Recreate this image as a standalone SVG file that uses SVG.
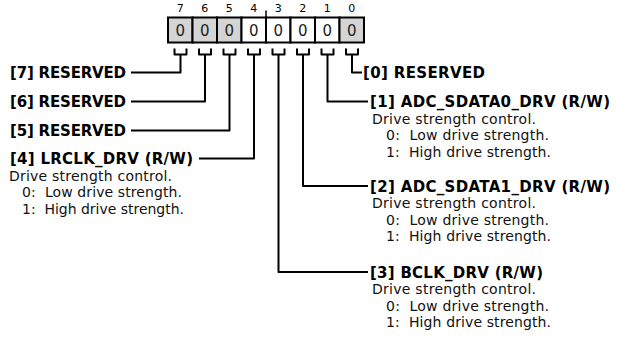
<svg xmlns="http://www.w3.org/2000/svg" width="617" height="343" viewBox="0 0 617 343">
<style>
.bg{fill:#fff}
.cell{stroke:#000;stroke-width:2}
.res{fill:#d4d4d4}
.rw{fill:#fff}
.val{font-family:"DejaVu Sans",sans-serif;font-size:15px;fill:#222;text-anchor:middle}
.bitn{font-family:"DejaVu Sans",sans-serif;font-size:11px;fill:#000;text-anchor:middle}
.hd{font-family:"DejaVu Sans",sans-serif;font-weight:bold;font-size:15px;fill:#000}
.ds{font-family:"DejaVu Sans",sans-serif;font-size:14px;fill:#111}
.con{fill:none;stroke:#000;stroke-width:2;stroke-linejoin:round}
</style>
<rect class="bg" x="0" y="0" width="617" height="343"/>
<g id="register">
  <text class="bitn" x="180.25" y="12">7</text>
  <text class="bitn" x="204.75" y="12">6</text>
  <text class="bitn" x="229.25" y="12">5</text>
  <text class="bitn" x="253.75" y="12">4</text>
  <text class="bitn" x="278.25" y="12">3</text>
  <text class="bitn" x="302.75" y="12">2</text>
  <text class="bitn" x="327.25" y="12">1</text>
  <text class="bitn" x="351.75" y="12">0</text>
  <line x1="266" y1="10.5" x2="266" y2="18" stroke="#000" stroke-width="1.5"/>
  <rect class="cell res" x="168" y="17.5" width="24.5" height="25"/>
  <rect class="cell res" x="192.5" y="17.5" width="24.5" height="25"/>
  <rect class="cell res" x="217" y="17.5" width="24.5" height="25"/>
  <rect class="cell rw" x="241.5" y="17.5" width="24.5" height="25"/>
  <rect class="cell rw" x="266" y="17.5" width="24.5" height="25"/>
  <rect class="cell rw" x="290.5" y="17.5" width="24.5" height="25"/>
  <rect class="cell rw" x="315" y="17.5" width="24.5" height="25"/>
  <rect class="cell res" x="339.5" y="17.5" width="24.5" height="25"/>
  <text class="val" x="180.25" y="35.5">0</text>
  <text class="val" x="204.75" y="35.5">0</text>
  <text class="val" x="229.25" y="35.5">0</text>
  <text class="val" x="253.75" y="35.5">0</text>
  <text class="val" x="278.25" y="35.5">0</text>
  <text class="val" x="302.75" y="35.5">0</text>
  <text class="val" x="327.25" y="35.5">0</text>
  <text class="val" x="351.75" y="35.5">0</text>
</g>
<g id="connectors">
  <path class="con" d="M174.5 48.5V54.5H186.5V48.5M180.5 54.5V72.5H131"/>
  <path class="con" d="M199 48.5V54.5H211V48.5M205 54.5V101.5H131"/>
  <path class="con" d="M223.5 48.5V54.5H235.5V48.5M229.5 54.5V130.5H131"/>
  <path class="con" d="M248 48.5V54.5H260V48.5M254 54.5V158.5H199"/>
  <path class="con" d="M272.5 48.5V54.5H284.5V48.5M278.5 54.5V272H368"/>
  <path class="con" d="M297 48.5V54.5H309V48.5M303 54.5V186H368"/>
  <path class="con" d="M321.5 48.5V54.5H333.5V48.5M327.5 54.5V101.5H368"/>
  <path class="con" d="M346 48.5V54.5H358V48.5M352 54.5V72.5H362"/>
</g>
<g id="field7"><text class="hd" x="10" y="78" textLength="116">[7] RESERVED</text></g>
<g id="field6"><text class="hd" x="10" y="107" textLength="116">[6] RESERVED</text></g>
<g id="field5"><text class="hd" x="10" y="136" textLength="116">[5] RESERVED</text></g>
<g id="field4">
  <text class="hd" x="10" y="164" textLength="183">[4] LRCLK_DRV (R/W)</text>
  <text class="ds" x="9" y="180.5" textLength="163">Drive strength control.</text>
  <text class="ds" x="22" y="197" textLength="160" xml:space="preserve">0:  Low drive strength.</text>
  <text class="ds" x="22" y="213.5" textLength="162" xml:space="preserve">1:  High drive strength.</text>
</g>
<g id="field0"><text class="hd" x="363" y="78" textLength="122">[0] RESERVED</text></g>
<g id="field1">
  <text class="hd" x="370" y="107" textLength="240">[1] ADC_SDATA0_DRV (R/W)</text>
  <text class="ds" x="372" y="123.5" textLength="164">Drive strength control.</text>
  <text class="ds" x="386" y="140" textLength="163" xml:space="preserve">0:  Low drive strength.</text>
  <text class="ds" x="386" y="156.5" textLength="165" xml:space="preserve">1:  High drive strength.</text>
</g>
<g id="field2">
  <text class="hd" x="370" y="191.5" textLength="240">[2] ADC_SDATA1_DRV (R/W)</text>
  <text class="ds" x="372" y="208" textLength="164">Drive strength control.</text>
  <text class="ds" x="386" y="224.5" textLength="163" xml:space="preserve">0:  Low drive strength.</text>
  <text class="ds" x="386" y="241" textLength="165" xml:space="preserve">1:  High drive strength.</text>
</g>
<g id="field3">
  <text class="hd" x="370" y="277.5" textLength="173">[3] BCLK_DRV (R/W)</text>
  <text class="ds" x="372" y="294" textLength="164">Drive strength control.</text>
  <text class="ds" x="386" y="310.5" textLength="163" xml:space="preserve">0:  Low drive strength.</text>
  <text class="ds" x="386" y="327" textLength="165" xml:space="preserve">1:  High drive strength.</text>
</g>
</svg>
